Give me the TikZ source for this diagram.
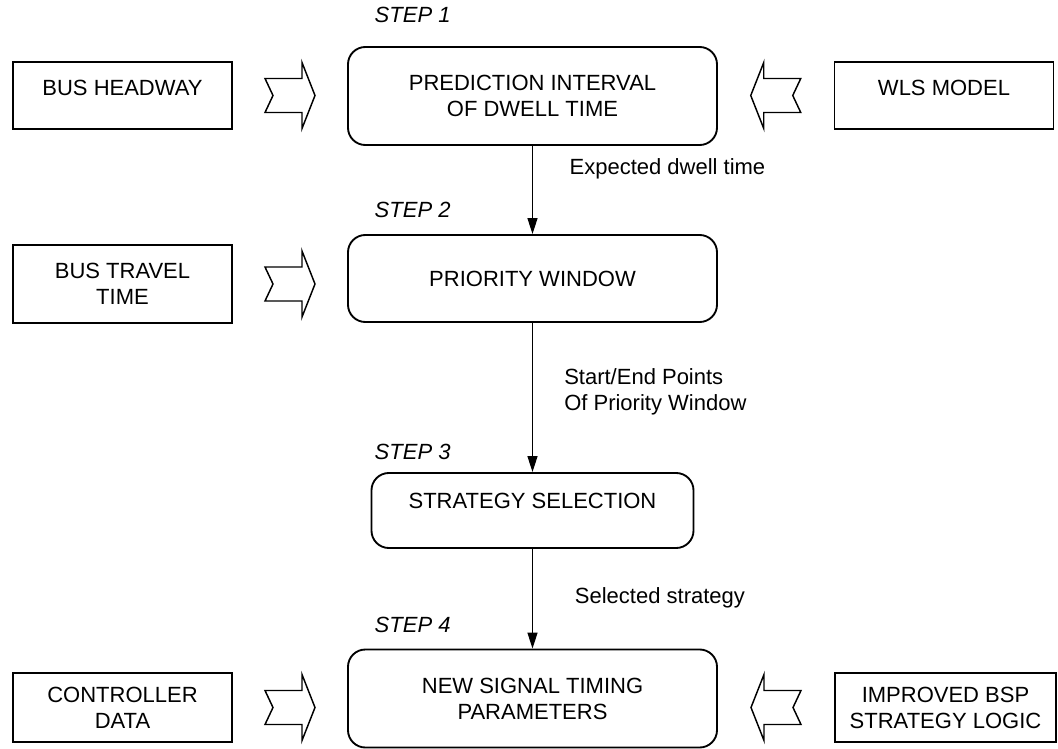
\documentclass[tikz,border=0pt]{standalone}
\usepackage{fontspec}
\setmainfont{Liberation Sans}
\usetikzlibrary{arrows.meta,positioning,calc}

\begin{document}
\begin{tikzpicture}[x=0.75pt,y=-0.75pt,
    every node/.style={font=\fontsize{16.5}{19.5}\selectfont},
    stepbox/.style={draw,line width=1.4pt,rounded corners=13pt,align=center,
                    minimum width=276.75pt,inner sep=0pt},
    inbox/.style={draw,line width=1.4pt,align=center,
                  minimum width=164.25pt,inner sep=0pt},
    steplbl/.style={anchor=west,font=\fontsize{16.5}{19.5}\selectfont\itshape},
    lbl/.style={anchor=west,align=left},
    arr/.style={-{Triangle[length=12pt,width=7.5pt]},line width=1pt},
    fat/.style={line width=1.1pt,line join=miter},
    fatarrow/.pic={
      \draw[fat] (-25,-17) -- (12,-17) -- (12,-33) -- (25,0) -- (12,33)
                 -- (12,17) -- (-25,17) -- (-17,0) -- cycle;}]

  \useasboundingbox (0,0) rectangle (1058,749);

  % the four steps
  \node[stepbox,minimum height=73.5pt]  (pred)   at (532.5,96)    {PREDICTION INTERVAL\\OF DWELL TIME};
  \node[stepbox,minimum height=65.25pt] (prio)   at (532.5,278.5) {PRIORITY WINDOW};
  \node[stepbox,minimum height=56.25pt,minimum width=241.5pt,text depth=15pt]
        (strat)  at (532.5,510.5) {STRATEGY SELECTION};
  \node[stepbox,minimum height=73.5pt]  (newsig) at (532.5,698.5) {NEW SIGNAL TIMING\\PARAMETERS};

  \node[steplbl] (st1) at (370,15)  {STEP 1};
  \node[steplbl] (st2) at (370,210) {STEP 2};
  \node[steplbl] (st3) at (370,452) {STEP 3};
  \node[steplbl] (st4) at (370,625) {STEP 4};

  % inputs
  \node[inbox,minimum height=50.25pt,text depth=12pt] (hw)     at (122.5,95.5) {BUS HEADWAY};
  \node[inbox,minimum height=58.5pt]                  (travel) at (122.5,284)  {BUS TRAVEL\\TIME};
  \node[inbox,minimum height=51.75pt]                 (ctrl)   at (122.5,707.5) {CONTROLLER\\DATA};
  \node[inbox,minimum height=50.25pt,text depth=12pt] (wls)    at (944,95.5)   {WLS MODEL};
  \node[inbox,minimum height=51.75pt,minimum width=165.75pt]
        (bsp) at (945.5,707.5) {IMPROVED BSP\\STRATEGY LOGIC};

  \coordinate (a1) at ($(hw.east)!0.5!(hw.east -| pred.west)$);
  \coordinate (a2) at ($(travel.east)!0.5!(travel.east -| prio.west)$);
  \coordinate (a3) at ($(ctrl.east)!0.5!(ctrl.east -| newsig.west)$);
  \coordinate (a4) at ($(wls.west)!0.5!(wls.west -| pred.east)$);
  \coordinate (a5) at ($(bsp.west)!0.5!(bsp.west -| newsig.east)$);

  \pic at (a1) {fatarrow};
  \pic at (a2) {fatarrow};
  \pic at (a3) {fatarrow};
  \pic[rotate=180] at (a4) {fatarrow};
  \pic[rotate=180] at (a5) {fatarrow};

  \draw[arr] (pred)  -- node[lbl,pos=0.26,xshift=24pt] {Expected dwell time} (prio);
  \draw[arr] (prio)  -- node[lbl,pos=0.46,xshift=20pt] {Start/End Points\\Of Priority Window} (strat);
  \draw[arr] (strat) -- node[lbl,pos=0.49,xshift=28pt] {Selected strategy} (newsig);
\end{tikzpicture}
\end{document}
